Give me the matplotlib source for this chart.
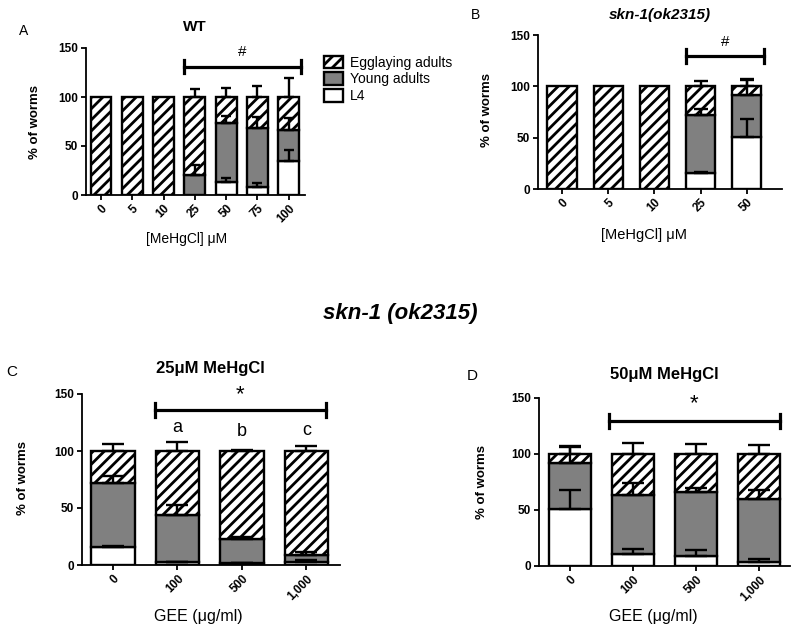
import numpy as np
import matplotlib
matplotlib.use("Agg")
import matplotlib.pyplot as plt
from matplotlib.patches import Patch

plt.rcParams['font.family'] = ['Liberation Sans', 'DejaVu Sans']
plt.rcParams['hatch.linewidth'] = 2.0
plt.rcParams['hatch.color'] = 'black'

GRAY = '#808080'

# A: WT, MeHgCl dose
wt_conc = ['0', '5', '10', '25', '50', '75', '100']
wt_l4 = [0, 0, 0, 0, 13, 8.5, 34.5]
wt_ya = [0, 0, 0, 20, 60, 60, 32]
wt_l4_err = [0, 0, 0, 0, 4.5, 4, 11.5]
wt_ya_err = [0, 0, 0, 11, 8, 11, 12]
wt_egg_err = [0, 0, 0, 8, 9, 11, 19]

# B: skn-1(ok2315), MeHgCl dose
skn_conc = ['0', '5', '10', '25', '50']
skn_l4 = [0, 0, 0, 16, 51]
skn_ya = [0, 0, 0, 56, 41]
skn_l4_err = [0, 0, 0, 0.5, 17]
skn_ya_err = [0, 0, 0, 6, 14]
skn_egg_err = [0, 0, 0, 5.5, 7.5]

# C / D: GEE rescue
gee = ['0', '100', '500', '1,000']
c_l4 = [16, 2.5, 1.5, 2.5]
c_ya = [56, 41.5, 21, 6]
c_l4_err = [0.5, 0.5, 0.5, 1.5]
c_ya_err = [6, 8.5, 2.5, 3]
c_egg_err = [6.5, 8, 1, 4]

d_l4 = [51, 11, 9, 4]
d_ya = [41, 52, 57, 56]
d_l4_err = [17, 4.5, 5, 2]
d_ya_err = [14, 11, 3.5, 7.5]
d_egg_err = [7.5, 10, 9, 8]

W, H = 800, 632
fig = plt.figure(figsize=(8, 6.32), dpi=100)


def box(l, r, t, b):
    return [l / W, 1 - b / H, (r - l) / W, (b - t) / H]


def ftext(x, y, s, **kw):
    fig.text(x / W, 1 - y / H, s, ha='center', va='center', **kw)


def stacked(ax, labels, l4, ya, l4e, yae, egge, width, cap, xlim):
    x = np.arange(len(labels))
    l4 = np.array(l4, float)
    ya = np.array(ya, float)
    egg = 100 - l4 - ya
    kw = dict(width=width, edgecolor='black', linewidth=1.7, zorder=2)
    ax.bar(x, l4, color='white', **kw)
    ax.bar(x, ya, bottom=l4, color=GRAY, **kw)
    ax.bar(x, egg, bottom=l4 + ya, color='white', hatch='///', **kw)
    for top, err in [(l4, l4e), (l4 + ya, yae), (np.full(len(x), 100.0), egge)]:
        err = np.array(err, float)
        m = err > 0
        ax.errorbar(x[m], top[m], yerr=[np.zeros(m.sum()), err[m]], fmt='none',
                    ecolor='black', elinewidth=1.7, capsize=cap, capthick=1.7, zorder=3)
    ax.set_xlim(*xlim)
    ax.set_ylim(0, 150)
    ax.set_yticks([0, 50, 100, 150])
    ax.set_xticks(x)
    ax.set_xticklabels(labels, rotation=45, ha='right', rotation_mode='anchor',
                       fontsize=8.5, fontweight='bold')
    for t in ax.get_yticklabels():
        t.set_fontsize(8.5)
        t.set_fontweight('bold')
    for s in ['top', 'right']:
        ax.spines[s].set_visible(False)
    for s in ['left', 'bottom']:
        ax.spines[s].set_linewidth(1.3)
    ax.tick_params(width=1.3, length=3.5, pad=2)


def bracket(ax, x0, x1, y, mark, my, tick=5, size=11):
    ax.plot([x0, x1], [y, y], color='black', lw=2.3, clip_on=False, zorder=4)
    for xx in (x0, x1):
        ax.plot([xx, xx], [y - tick, y + tick], color='black', lw=2.3, clip_on=False, zorder=4)
    ax.text((x0 + x1) / 2, my, mark, ha='center', va='center', fontsize=size)


# Panel A
axA = fig.add_axes(box(86, 305, 48, 195))
stacked(axA, wt_conc, wt_l4, wt_ya, wt_l4_err, wt_ya_err, wt_egg_err, 0.67, 3.5, (-0.48, 6.52))
bracket(axA, 2.65, 6.39, 131, '#', 146, tick=7, size=11)
ftext(195, 27, 'WT', fontsize=11, fontweight='bold')
ftext(24, 31, 'A', fontsize=10)
ftext(35, 122, '% of worms', fontsize=9.5, fontweight='bold', rotation=90)
ftext(187, 239, '[MeHgCl] \u03bcM', fontsize=10)
handles = [Patch(facecolor='white', edgecolor='black', hatch='///', lw=1.7),
           Patch(facecolor=GRAY, edgecolor='black', lw=1.7),
           Patch(facecolor='white', edgecolor='black', lw=1.7)]
fig.legend(handles, ['Egglaying adults', 'Young adults', 'L4'], loc='upper left',
           bbox_to_anchor=(318 / W, 1 - 50 / H), frameon=False, fontsize=10,
           handlelength=1.4, handleheight=1.0, handletextpad=0.5, labelspacing=0.2,
           borderaxespad=0)

# Panel B
axB = fig.add_axes(box(538, 782, 35, 189))
stacked(axB, skn_conc, skn_l4, skn_ya, skn_l4_err, skn_ya_err, skn_egg_err, 0.63, 5, (-0.52, 4.76))
bracket(axB, 2.68, 4.37, 129.5, '#', 143, tick=7, size=11)
ftext(660, 15, 'skn-1(ok2315)', fontsize=11, fontweight='bold', style='italic')
ftext(475, 15, 'B', fontsize=10)
ftext(487, 110, '% of worms', fontsize=9.5, fontweight='bold', rotation=90)
ftext(644, 235, '[MeHgCl] \u03bcM', fontsize=10.5)

# middle title
ftext(400, 313, 'skn-1 (ok2315)', fontsize=16, fontweight='bold', style='italic')

# Panel C
axC = fig.add_axes(box(82, 340, 394, 565))
stacked(axC, gee, c_l4, c_ya, c_l4_err, c_ya_err, c_egg_err, 0.67, 8, (-0.48, 3.52))
bracket(axC, 0.65, 3.3, 136, '*', 149, tick=6, size=16)
for xi, yi, s in [(1, 121, 'a'), (2, 117, 'b'), (3, 118, 'c')]:
    axC.text(xi, yi, s, ha='center', va='center', fontsize=13)
ftext(210, 368, '25\u03bcM MeHgCl', fontsize=12, fontweight='bold')
ftext(12, 372, 'C', fontsize=11)
ftext(23, 478, '% of worms', fontsize=9.5, fontweight='bold', rotation=90)
ftext(198, 616, 'GEE (\u03bcg/ml)', fontsize=11.5)

# Panel D
axD = fig.add_axes(box(539, 790, 398, 566))
stacked(axD, gee, d_l4, d_ya, d_l4_err, d_ya_err, d_egg_err, 0.67, 8, (-0.49, 3.49))
bracket(axD, 0.62, 3.33, 129.5, '*', 145, tick=6, size=16)
ftext(664, 374, '50\u03bcM MeHgCl', fontsize=12, fontweight='bold')
ftext(472, 376, 'D', fontsize=11)
ftext(482, 482, '% of worms', fontsize=9.5, fontweight='bold', rotation=90)
ftext(653, 616, 'GEE (\u03bcg/ml)', fontsize=11.5)

fig.savefig('out.png', dpi=100)
